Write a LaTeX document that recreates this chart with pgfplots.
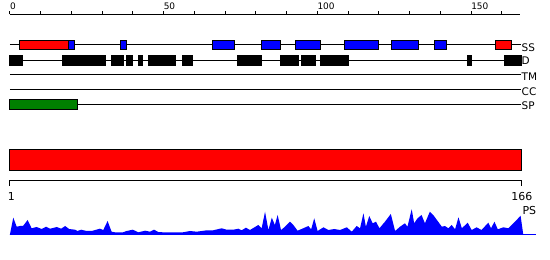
\documentclass[border=0pt]{standalone}
\usepackage{pgfplots}
\pgfplotsset{compat=1.18}
\usepackage{fontspec}
\setmainfont{DejaVu Sans}
\definecolor{ssred}{RGB}{255,0,0}
\definecolor{ssblue}{RGB}{0,0,255}
\definecolor{spgreen}{RGB}{0,128,0}
\pgfplotsset{
  trk/.style={black, line width=1bp},
  bx/.style={draw=black, line width=1bp, line join=miter},
}
\begin{document}
\begin{tikzpicture}
\begin{axis}[width=550bp,height=260bp,scale only axis,hide axis,
  xmin=-3.187,xmax=175.67,ymin=0,ymax=260,clip=false]
% invisible frame so the picture covers the whole 550x260 area
\addplot[draw=none] coordinates {(-3.187,0) (175.67,260)};
% ---- top ruler ----
\addplot[trk] coordinates {(0,245.7) (166,245.7)};
\pgfplotsinvokeforeach{0,10,...,160}{\addplot[trk] coordinates {(#1,245.7) (#1,249)};}
\node[anchor=base west, inner sep=0pt, font=\fontsize{9}{10}\selectfont] at (axis cs:0,250.7) {0};
\node[anchor=base west, inner sep=0pt, font=\fontsize{9}{10}\selectfont] at (axis cs:50,250.7) {50};
\node[anchor=base west, inner sep=0pt, font=\fontsize{9}{10}\selectfont] at (axis cs:100,250.7) {100};
\node[anchor=base west, inner sep=0pt, font=\fontsize{9}{10}\selectfont] at (axis cs:150,250.7) {150};
% ---- track lines ----
\addplot[trk] coordinates {(0,215) (166.3,215)};
\addplot[trk] coordinates {(0,199.7) (166.3,199.7)};
\addplot[trk] coordinates {(0,185) (166.3,185)};
\addplot[trk] coordinates {(0,170) (166.3,170)};
\addplot[trk] coordinates {(0,155) (166.3,155)};
% ---- SS boxes ----
\addplot[bx, fill=ssred]  coordinates {(3,210) (19,210) (19,219.5) (3,219.5)} -- cycle;
\addplot[bx, fill=ssblue] coordinates {(19,210) (21,210) (21,219.5) (19,219.5)} -- cycle;
\addplot[bx, fill=ssblue] coordinates {(36,210) (38,210) (38,219.5) (36,219.5)} -- cycle;
\addplot[bx, fill=ssblue] coordinates {(66,210) (73,210) (73,219.5) (66,219.5)} -- cycle;
\addplot[bx, fill=ssblue] coordinates {(82,210) (88,210) (88,219.5) (82,219.5)} -- cycle;
\addplot[bx, fill=ssblue] coordinates {(93,210) (101,210) (101,219.5) (93,219.5)} -- cycle;
\addplot[bx, fill=ssblue] coordinates {(109,210) (120,210) (120,219.5) (109,219.5)} -- cycle;
\addplot[bx, fill=ssblue] coordinates {(124,210) (133,210) (133,219.5) (124,219.5)} -- cycle;
\addplot[bx, fill=ssblue] coordinates {(138,210) (142,210) (142,219.5) (138,219.5)} -- cycle;
\addplot[bx, fill=ssred]  coordinates {(158,210) (163,210) (163,219.5) (158,219.5)} -- cycle;
% ---- D boxes ----
\addplot[bx, fill=black] coordinates {(0,194.3) (4,194.3) (4,204.7) (0,204.7)} -- cycle;
\addplot[bx, fill=black] coordinates {(17,194.3) (31.2,194.3) (31.2,204.7) (17,204.7)} -- cycle;
\addplot[bx, fill=black] coordinates {(33,194.3) (37,194.3) (37,204.7) (33,204.7)} -- cycle;
\addplot[bx, fill=black] coordinates {(37.8,194.3) (40,194.3) (40,204.7) (37.8,204.7)} -- cycle;
\addplot[bx, fill=black] coordinates {(42,194.3) (43.2,194.3) (43.2,204.7) (42,204.7)} -- cycle;
\addplot[bx, fill=black] coordinates {(45,194.3) (54,194.3) (54,204.7) (45,204.7)} -- cycle;
\addplot[bx, fill=black] coordinates {(56,194.3) (59.3,194.3) (59.3,204.7) (56,204.7)} -- cycle;
\addplot[bx, fill=black] coordinates {(74,194.3) (82,194.3) (82,204.7) (74,204.7)} -- cycle;
\addplot[bx, fill=black] coordinates {(88,194.3) (94,194.3) (94,204.7) (88,204.7)} -- cycle;
\addplot[bx, fill=black] coordinates {(94.8,194.3) (99.3,194.3) (99.3,204.7) (94.8,204.7)} -- cycle;
\addplot[bx, fill=black] coordinates {(101,194.3) (110,194.3) (110,204.7) (101,204.7)} -- cycle;
\addplot[bx, fill=black] coordinates {(148.9,194.3) (150,194.3) (150,204.7) (148.9,204.7)} -- cycle;
\addplot[bx, fill=black] coordinates {(161,194.3) (166.3,194.3) (166.3,204.7) (161,204.7)} -- cycle;
% ---- SP box ----
\addplot[bx, fill=spgreen] coordinates {(0,150) (22,150) (22,160) (0,160)} -- cycle;
% ---- labels ----
\node[anchor=base west, inner sep=0pt, font=\fontsize{10.5}{12}\selectfont] at (axis cs:166.4,209) {SS};
\node[anchor=base west, inner sep=0pt, font=\fontsize{10.5}{12}\selectfont] at (axis cs:166.4,196) {D};
\node[anchor=base west, inner sep=0pt, font=\fontsize{10.5}{12}\selectfont] at (axis cs:166.4,180) {TM};
\node[anchor=base west, inner sep=0pt, font=\fontsize{10.5}{12}\selectfont] at (axis cs:166.4,165) {CC};
\node[anchor=base west, inner sep=0pt, font=\fontsize{10.5}{12}\selectfont] at (axis cs:166.4,151) {SP};
% ---- big red bar ----
\addplot[bx, fill=ssred] coordinates {(0,89.3) (166.3,89.3) (166.3,110) (0,110)} -- cycle;
% ---- second ruler ----
\addplot[trk] coordinates {(0,74.3) (0,79.7) (166.3,79.7) (166.3,74.3)};
\node[anchor=base, inner sep=0pt, font=\fontsize{11}{12}\selectfont] at (axis cs:0.5,59.3) {1};
\node[anchor=base, inner sep=0pt, font=\fontsize{11}{12}\selectfont] at (axis cs:166.5,59.3) {166};
\node[anchor=base west, inner sep=0pt, font=\fontsize{11}{12}\selectfont] at (axis cs:166.7,46) {PS};
% ---- profile ----
\addplot[fill=ssblue, draw=none] coordinates {
(0,25)(1.14,42.3)(2.24,33.3)(3.3,34)(4.3,34)(5.8,40)(7.1,31.7)(8.7,33)(10.4,31)(11.8,33.3)(13.1,31.3)(15.3,33)(16.7,31.3)(18.0,34)(19.3,31)(21.2,30.3)(22.0,29)(23.2,30.3)(25.0,29)(26.6,29)(29.3,31.3)(30.4,30)(31.8,39)(33.1,28.3)(34.2,27.7)(36.8,27.7)(38.0,29)(40.0,30.3)(41.8,27.7)(44.0,29.3)(45.6,28.3)(46.9,30.3)(48.3,28)(49.8,27.7)(56.3,27.7)(58.6,29)(60.8,28.3)(62.4,29)(64.1,29.7)(66.1,29.7)(68.9,31.7)(70.5,30.3)(72.7,30.3)(74.3,31.3)(75.4,29.7)(76.8,32.3)(78.1,30)(80.8,35)(81.9,31.7)(83.0,48.3)(84.1,30)(85.2,42.3)(86.2,35)(87.1,45)(88.2,30)(89.5,33.3)(91.1,38.3)(92.2,35)(93.6,29.3)(95.4,31.7)(97.1,34)(98.0,30.7)(99.0,41.7)(100.1,29)(102.0,32.7)(103.6,30)(105.5,31)(107.4,30)(109.6,32.7)(111.2,28.3)(112.8,34)(113.9,31.7)(115.0,46.7)(115.8,33.3)(116.9,44)(118.0,36.7)(119.1,38.3)(120.2,31.7)(122.0,38.3)(123.9,46)(125.3,29)(126.9,33.3)(128.5,36.7)(129.3,33.3)(130.7,50.7)(131.5,36.7)(132.6,41.7)(133.9,45)(135.0,36.7)(136.6,48.3)(137.7,45)(139.3,38.3)(140.5,33.3)(141.5,34)(142.6,31.7)(143.7,35)(144.8,30.7)(145.9,42.7)(147.0,31.7)(148.9,37.3)(150.2,30)(151.8,32.7)(153.4,30)(155.6,37.3)(156.5,31.7)(157.6,38.3)(158.7,30.7)(160.5,32.7)(162.1,31.7)(164.3,38.3)(166.1,44.3)(167.0,25)
} -- cycle;
\addplot[ssblue, line width=1bp] coordinates {(0,25) (171.1,25)};
\end{axis}
\end{tikzpicture}
\end{document}
